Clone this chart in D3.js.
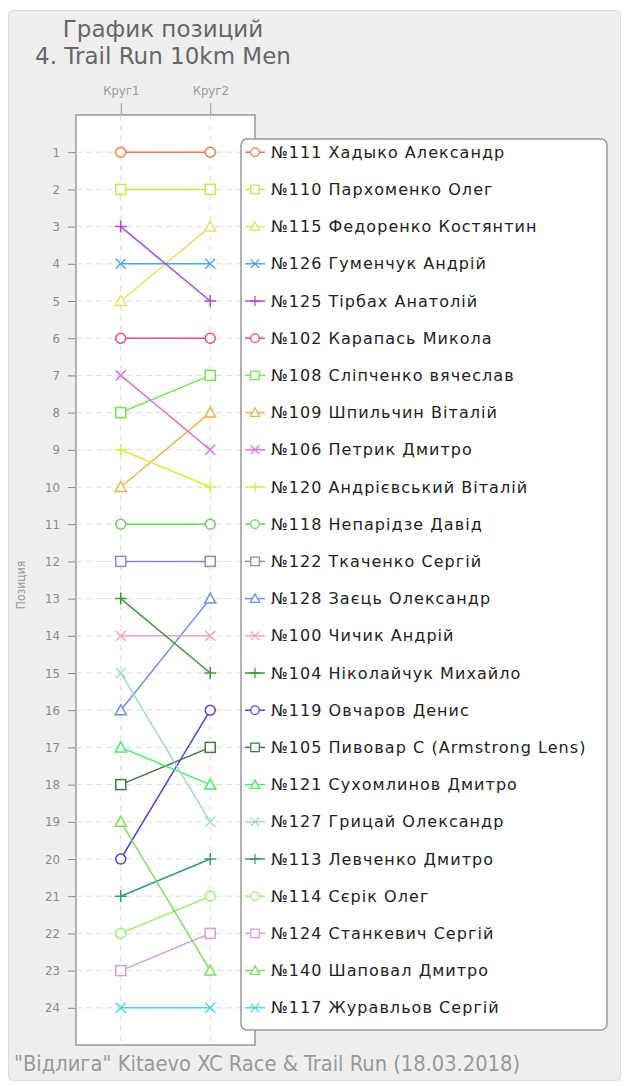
<!DOCTYPE html>
<html>
<head>
<meta charset="utf-8">
<script src="https://cdn.jsdelivr.net/npm/d3@7"></script>
<style>
  body { margin: 0; background: #fff; }
  svg { display: block; font-family: "DejaVu Sans", sans-serif; }
</style>
</head>
<body>
<svg id="chart"></svg>
<script>
var width = 627;
var height = 1086;

// laps (columns)
var laps = ["Круг1", "Круг2"];

// runners in legend order (final position)
var names = [
    "№111 Хадыко Александр",
    "№110 Пархоменко Олег",
    "№115 Федоренко Костянтин",
    "№126 Гуменчук Андрій",
    "№125 Тірбах Анатолій",
    "№102 Карапась Микола",
    "№108 Сліпченко вячеслав",
    "№109 Шпильчин Віталій",
    "№106 Петрик Дмитро",
    "№120 Андрієвський Віталій",
    "№118 Непарідзе Давід",
    "№122 Ткаченко Сергій",
    "№128 Заєць Олександр",
    "№100 Чичик Андрій",
    "№104 Ніколайчук Михайло",
    "№119 Овчаров Денис",
    "№105 Пивовар С (Armstrong Lens)",
    "№121 Сухомлинов Дмитро",
    "№127 Грицай Олександр",
    "№113 Левченко Дмитро",
    "№114 Сєрік Олег",
    "№124 Станкевич Сергій",
    "№140 Шаповал Дмитро",
    "№117 Журавльов Сергій"
];
// position after lap 1
var lap1 = [1, 2, 5, 4, 3, 6, 8, 10, 7, 9, 11, 12, 16, 14, 13, 20, 18, 17, 15, 21, 22, 23, 19, 24];
// position after lap 2
var lap2 = [1, 2, 3, 4, 5, 6, 7, 8, 9, 10, 11, 12, 13, 14, 15, 16, 17, 18, 19, 20, 21, 22, 23, 24];

var colors = ["#ee7a4e", "#cce64e", "#e6e05e", "#4ca6ec", "#b046e8", "#ec4c7c",
    "#6ce84c", "#e8b24e", "#e274d8", "#d6f044", "#6cd45c", "#9c84b4",
    "#6c8cf4", "#f4a6b6", "#3a9a3a", "#5242e0", "#427a42", "#44f064",
    "#9ee0ba", "#369a7a", "#9af072", "#d89adc", "#7ce05a", "#4ad4f0"];
var shapes = ["circle", "square", "triangle", "cross", "plus"];

var titleLines = ["График позиций", "4. Trail Run 10km Men"];

var positions = d3.range(1, 25);

var svg = d3.select('#chart')
    .attr('width', width)
    .attr('height', height);

// panel
svg.append('rect')
    .attr('x', 8.5).attr('y', 10.5)
    .attr('width', 612).attr('height', 1070)
    .attr('rx', 4)
    .attr('fill', '#efefef')
    .attr('stroke', '#dcdcdc');

// title lines
svg.selectAll('text.title')
    .data(titleLines)
    .enter().append('text')
    .attr('class', 'title')
    .attr('x', 163)
    .attr('y', (d, i) => 37 + i * 27)
    .attr('text-anchor', 'middle')
    .attr('font-size', 23).attr('fill', '#666')
    .text(d => d);

var plot = { left: 76, right: 255, top: 115, bottom: 1045 };

var x = d3.scalePoint()
    .domain(laps)
    .range([plot.left, plot.right])
    .padding(0.5);
var y = d3.scaleLinear()
    .domain([0, 25])
    .range([plot.top, plot.bottom]);

svg.append('rect')
    .attr('x', plot.left).attr('y', plot.top)
    .attr('width', plot.right - plot.left)
    .attr('height', plot.bottom - plot.top)
    .attr('fill', '#fff')
    .attr('stroke', '#999').attr('stroke-width', 1.5);

// grid
svg.append('g').selectAll('line')
    .data(positions)
    .enter().append('line')
    .attr('x1', plot.left).attr('x2', plot.right)
    .attr('y1', d => y(d)).attr('y2', d => y(d))
    .attr('stroke', '#ddd').attr('stroke-dasharray', '6,4');
svg.append('g').selectAll('line')
    .data(laps)
    .enter().append('line')
    .attr('x1', d => x(d)).attr('x2', d => x(d))
    .attr('y1', plot.top).attr('y2', plot.bottom)
    .attr('stroke', '#ddd').attr('stroke-dasharray', '6,4');

// y axis
var yAxis = svg.append('g')
    .attr('transform', `translate(${plot.left},0)`)
    .call(d3.axisLeft(y).tickValues(positions).tickSize(8).tickPadding(8));
yAxis.select('.domain').remove();
yAxis.selectAll('line').attr('stroke', '#888');
yAxis.selectAll('text').attr('fill', '#8a8a8a').attr('font-size', 13)
    .attr('font-family', '"DejaVu Sans Condensed", "DejaVu Sans", sans-serif');

// x axis on top
var xAxis = svg.append('g')
    .attr('transform', `translate(0,${plot.top})`)
    .call(d3.axisTop(x).tickSize(12).tickPadding(8));
xAxis.select('.domain').remove();
xAxis.selectAll('line').attr('stroke', '#999');
xAxis.selectAll('text').attr('fill', '#999').attr('font-size', 13)
    .attr('font-family', '"DejaVu Sans Condensed", "DejaVu Sans", sans-serif');

svg.append('text')
    .attr('transform', 'translate(25,585) rotate(-90)')
    .attr('text-anchor', 'middle')
    .attr('font-size', 12).attr('fill', '#999')
    .attr('font-family', '"DejaVu Sans Condensed", "DejaVu Sans", sans-serif')
    .text('Позиция');

function drawMarker(g, shape, color) {
    if (shape === 'circle') {
        g.append('circle').attr('r', 5).attr('fill', '#fff').attr('stroke', color).attr('stroke-width', 1.5);
    } else if (shape === 'square') {
        g.append('rect').attr('x', -5).attr('y', -5).attr('width', 10).attr('height', 10)
            .attr('fill', '#fff').attr('stroke', color).attr('stroke-width', 1.5);
    } else if (shape === 'triangle') {
        g.append('path').attr('d', 'M0,-5.5L5.5,4.5L-5.5,4.5Z')
            .attr('fill', '#fff').attr('stroke', color).attr('stroke-width', 1.5);
    } else if (shape === 'cross') {
        g.append('path').attr('d', 'M-5,-5L5,5M-5,5L5,-5')
            .attr('fill', 'none').attr('stroke', color).attr('stroke-width', 1.5);
    } else {
        g.append('path').attr('d', 'M-6,0L6,0M0,-6L0,6')
            .attr('fill', 'none').attr('stroke', color).attr('stroke-width', 1.5);
    }
}

var runners = names.map((n, i) => ({ name: n, ranks: [lap1[i], lap2[i]], color: colors[i], shape: shapes[i % shapes.length] }));

var line = d3.line()
    .x((d, i) => x(laps[i]))
    .y(d => y(d));

var series = svg.append('g').selectAll('g')
    .data(runners)
    .enter().append('g');
series.append('path')
    .attr('d', d => line(d.ranks))
    .attr('fill', 'none')
    .attr('stroke', d => d.color)
    .attr('stroke-width', 1.5);
series.each(function(d) {
    var g = d3.select(this);
    d.ranks.forEach(function(r, i) {
        drawMarker(g.append('g').attr('transform', `translate(${x(laps[i])},${y(r)})`), d.shape, d.color);
    });
});

// legend
var legend = svg.append('g');
legend.append('rect')
    .attr('x', 241).attr('y', 139)
    .attr('width', 366).attr('height', 891)
    .attr('rx', 6)
    .attr('fill', '#fff')
    .attr('stroke', '#999').attr('stroke-width', 1.5);
var item = legend.selectAll('g.item')
    .data(runners)
    .enter().append('g')
    .attr('class', 'item')
    .attr('transform', (d, i) => `translate(255,${y(i + 1)})`);
item.append('line')
    .attr('x1', -10).attr('x2', 10)
    .attr('stroke', d => d.color).attr('stroke-width', 1.5);
item.each(function(d) {
    var g = d3.select(this).append('g').attr('transform', 'scale(0.85)');
    drawMarker(g, d.shape, d.color);
});
item.append('text')
    .attr('x', 16).attr('dy', '0.35em')
    .attr('font-size', 16).attr('fill', '#222')
    .attr('letter-spacing', 1.05)
    .text(d => d.name);

svg.append('text')
    .attr('x', 14).attr('y', 1071)
    .attr('font-size', 22).attr('fill', '#999')
    .attr('font-family', '"DejaVu Sans Condensed", "DejaVu Sans", sans-serif')
    .attr('textLength', 506).attr('lengthAdjust', 'spacingAndGlyphs')
    .text('"Відлига" Kitaevo XC Race & Trail Run (18.03.2018)');
</script>
</body>
</html>
